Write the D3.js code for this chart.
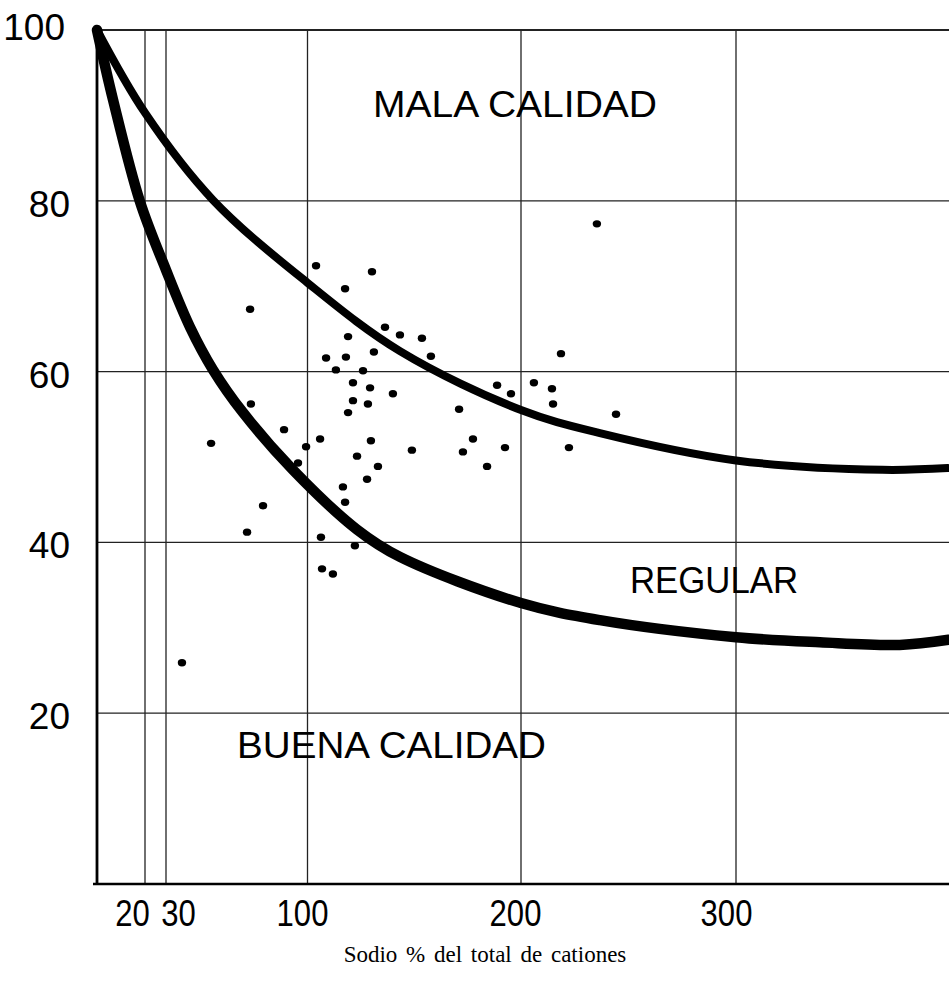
<!DOCTYPE html>
<html><head><meta charset="utf-8">
<script src="https://cdn.jsdelivr.net/npm/d3@7"></script>
<style>body{margin:0;background:#fff} svg{display:block}</style>
</head><body>
<svg id="c" width="949" height="986"></svg>
<script>
// ---- data ----
const xTicks = [20, 30, 100, 200, 300];
const yTicks = [20, 40, 60, 80, 100];
const xTickLabels = ["20", "30", "100", "200", "300"];
const yTickLabels = ["20", "40", "60", "80", "100"];

// upper boundary (MALA / REGULAR)
const upperX = [0, 20, 53.2, 100, 143.3, 200, 236.7, 300, 368.4, 399];
const upperY = [100, 90.3, 80.1, 70.4, 62.4, 55.5, 52.8, 49.6, 48.5, 48.7];
// lower boundary (REGULAR / BUENA)
const lowerX = [0, 6.7, 17.9, 30, 41.9, 53.3, 68.1, 92.8, 123.2, 143.3, 200, 236.7, 300, 339.2, 376.5, 399.3];
const lowerY = [100, 91.8, 79.9, 71.9, 65.2, 60.2, 55.2, 48.5, 41.5, 38.3, 32.9, 30.9, 28.9, 28.3, 28.0, 28.6];

// samples: sodium vs % of cations
const sampleX = [104.0,71.6,108.7,113.3,72.0,88.4,52.3,105.9,99.3,95.3,78.0,70.1,106.3,130.2,117.6,136.3,143.3,153.6,157.8,119.0,118.0,131.1,126.0,121.3,129.3,140.0,121.3,128.3,119.0,129.7,123.2,148.9,133.0,127.9,116.6,117.6,122.2,235.3,218.6,188.8,195.3,206.0,214.4,214.9,171.0,244.2,177.5,172.8,192.5,222.3,184.1,106.8,111.9,37.9];
const sampleY = [72.4,67.3,61.6,60.2,56.2,53.2,51.6,52.1,51.2,49.3,44.3,41.2,40.6,71.7,69.7,65.2,64.3,63.9,61.8,64.1,61.7,62.3,60.1,58.7,58.1,57.4,56.6,56.2,55.2,51.9,50.1,50.8,48.9,47.4,46.5,44.7,39.6,77.3,62.1,58.4,57.4,58.7,58.0,56.2,55.6,55.0,52.1,50.6,51.1,51.1,48.9,36.9,36.3,25.9];

const regionLabels = ["MALA CALIDAD", "REGULAR", "BUENA CALIDAD"];
const xTitle = "Sodio % del total de cationes";

// ---- layout ----
const svg = d3.select("#c");
const x = d3.scaleLinear().domain([0, 20, 30, 100, 200, 300, 400]).range([97, 145, 166, 307.5, 521, 736, 950]);
const y = d3.scaleLinear().domain([0, 100]).range([884, 30]);
const x0 = x(0), x1 = 949, y0 = y(0), yTop = y(100);

// gridlines
const g = svg.append("g");
g.selectAll(".vg").data(xTicks).join("line")
  .attr("x1", d => x(d)).attr("x2", d => x(d))
  .attr("y1", yTop).attr("y2", y0)
  .attr("stroke", "#222").attr("stroke-width", 1.3);
g.selectAll(".hg").data(yTicks).join("line")
  .attr("x1", x0).attr("x2", x1)
  .attr("y1", d => y(d)).attr("y2", d => y(d))
  .attr("stroke", "#222").attr("stroke-width", d => d === 100 ? 2.2 : 1.3);

// axes lines
svg.append("line").attr("x1", x0).attr("x2", x0).attr("y1", yTop).attr("y2", y0 + 1)
  .attr("stroke", "#000").attr("stroke-width", 2.8);
svg.append("line").attr("x1", x0 - 4).attr("x2", x1).attr("y1", y0).attr("y2", y0)
  .attr("stroke", "#000").attr("stroke-width", 2.5);

// curves
const line = d3.line().x(d => x(d[0])).y(d => y(d[1])).curve(d3.curveCatmullRom.alpha(0.5));
svg.append("path").datum(upperX.map((v, i) => [v, upperY[i]]))
  .attr("d", line).attr("fill", "none").attr("stroke", "#000")
  .attr("stroke-width", 8).attr("stroke-linecap", "round");
svg.append("path").datum(lowerX.map((v, i) => [v, lowerY[i]]))
  .attr("d", line).attr("fill", "none").attr("stroke", "#000")
  .attr("stroke-width", 10.5).attr("stroke-linecap", "round");

// samples
svg.append("g").selectAll("ellipse").data(sampleX.map((v, i) => [v, sampleY[i]])).join("ellipse")
  .attr("cx", d => x(d[0])).attr("cy", d => y(d[1]))
  .attr("rx", 4.2).attr("ry", 3.7).attr("fill", "#000");

// x tick labels
const xOff = {20: -13, 30: 12, 100: -5.5, 200: -6, 300: -10};
const xAxis = d3.axisBottom(x).tickValues(xTicks).tickSize(0)
  .tickFormat((d, i) => xTickLabels[i]);
const gx = svg.append("g").attr("transform", `translate(0,${y0})`).call(xAxis);
gx.select(".domain").remove();
gx.selectAll("text")
  .attr("font-family", "'Liberation Sans', Arial, sans-serif")
  .attr("font-size", 37).attr("fill", "#000")
  .attr("y", 0).attr("dy", 0)
  .attr("dominant-baseline", "central")
  .attr("transform", d => `translate(${xOff[d]},29) scale(0.84,1)`);

// y tick labels
const yAxis = d3.axisLeft(y).tickValues(yTicks).tickSize(0)
  .tickFormat((d, i) => yTickLabels[i]);
const gy = svg.append("g").attr("transform", `translate(70,0)`).call(yAxis);
gy.select(".domain").remove();
gy.selectAll("text")
  .attr("font-family", "'Liberation Sans', Arial, sans-serif")
  .attr("font-size", 37).attr("fill", "#000")
  .attr("x", d => d === 100 ? -5 : 0).attr("dy", 0)
  .attr("dominant-baseline", "central")
  .attr("transform", d => `translate(0,${d === 100 ? -3 : 3})`);

// region labels
const regionPos = [[373, 117, 284], [630, 593, 168], [237, 758, 309]];
svg.append("g").selectAll("text").data(regionLabels).join("text")
  .attr("x", (d, i) => regionPos[i][0]).attr("y", (d, i) => regionPos[i][1])
  .attr("textLength", (d, i) => regionPos[i][2])
  .attr("lengthAdjust", "spacingAndGlyphs")
  .attr("font-family", "'Liberation Sans', Arial, sans-serif")
  .attr("font-size", 37).attr("fill", "#000")
  .text(d => d);

// x title
svg.append("text").attr("x", 485).attr("y", 962)
  .attr("text-anchor", "middle")
  .attr("font-family", "'Liberation Serif', 'Times New Roman', serif")
  .attr("font-size", 23).attr("word-spacing", 3).attr("fill", "#000")
  .text(xTitle);
</script>
</body></html>
